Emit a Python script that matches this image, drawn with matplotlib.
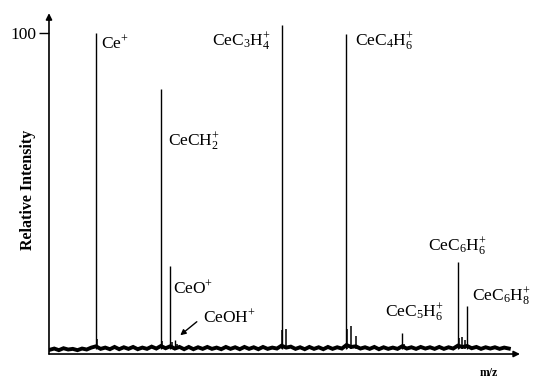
import matplotlib
matplotlib.use("Agg")
import matplotlib.pyplot as plt

plt.rcParams['font.family'] = ['Liberation Serif', 'DejaVu Serif']
plt.rcParams['mathtext.fontset'] = 'custom'
plt.rcParams['mathtext.rm'] = 'Liberation Serif'
plt.rcParams['mathtext.it'] = 'Liberation Serif:italic'
plt.rcParams['mathtext.bf'] = 'Liberation Serif:bold'

# main peaks (m/z, relative intensity)
peak_mz = [140, 154, 156, 157, 180, 194, 206, 218, 220]
peak_int = [100, 82.6, 27.4, 4.4, 102.5, 99.7, 6.5, 28.7, 15.0]
peak_names = ["Ce$^{+}$", "CeCH$_2^{+}$", "CeO$^{+}$", "CeOH$^{+}$",
              "CeC$_3$H$_4^{+}$", "CeC$_4$H$_6^{+}$", "CeC$_5$H$_6^{+}$",
              "CeC$_6$H$_6^{+}$", "CeC$_6$H$_8^{+}$"]
# label positions (m/z, intensity)
label_mz = [141.1, 155.5, 156.6, 163.1, 165.0, 195.8, 202.3, 211.6, 221.0]
label_int = [96.9, 66.0, 20.6, 11.5, 97.2, 97.2, 12.8, 33.3, 17.8]

# small satellite peaks and base bumps
minor_mz = [140.2, 154.2, 156.3, 180.2, 181, 194.2, 195, 196, 218.3, 219, 219.6, 206.3, 157.5]
minor_int = [4.6, 4.2, 3.8, 7.5, 7.8, 7.8, 8.7, 5.6, 5.0, 5.2, 4.5, 3.0, 3.2]

# baseline noise, read every 1 m/z
base_mz = list(range(130, 230))
base_int = [1.3, 1.7, 1.2, 1.8, 1.4, 1.6, 1.2, 1.7, 1.4, 2.0, 2.4, 1.6, 2.0, 1.5, 2.2,
            1.5, 2.1, 1.6, 2.2, 1.5, 2.0, 1.6, 2.3, 1.7, 2.5, 1.8, 2.4, 1.7, 2.2, 1.5,
            2.2, 1.5, 2.1, 1.6, 2.2, 1.6, 2.0, 1.5, 2.2, 1.6, 2.1, 1.5, 2.2, 1.6, 2.1,
            1.5, 2.2, 1.6, 2.0, 1.7, 2.6, 2.0, 2.3, 1.6, 2.1, 1.5, 2.2, 1.6, 2.1, 1.5,
            2.2, 1.6, 2.1, 1.7, 2.8, 2.2, 2.4, 1.7, 2.1, 1.6, 2.2, 1.5, 2.1, 1.6, 2.0,
            1.6, 2.4, 1.7, 2.1, 1.6, 2.2, 1.7, 2.1, 1.6, 2.2, 1.6, 2.1, 1.7, 2.6, 2.2,
            2.5, 1.8, 2.2, 1.6, 2.1, 1.7, 2.1, 1.6, 2.0, 1.7]

fig = plt.figure(figsize=(5.36, 3.8), dpi=100)
ax = fig.add_axes([0.0914, 0.0684, 0.8787, 0.897])

ax.plot(base_mz, base_int, color='k', lw=2.8, solid_joinstyle='miter')
ax.vlines(minor_mz, 1.5, minor_int, color='k', lw=1.1)
ax.vlines(peak_mz, 1.5, peak_int, color='k', lw=1.0)

for i in range(len(peak_names)):
    ax.text(label_mz[i], label_int[i], peak_names[i], fontsize=12.5, ha='left', va='center')

ax.annotate('', xy=(157.7, 5.3), xytext=(162.2, 10.6),
            arrowprops=dict(arrowstyle='-|>', color='k', lw=1, mutation_scale=8))

ax.set_xlim(129.87, 231.4)
ax.set_ylim(0, 106.2)
for s in ax.spines.values():
    s.set_visible(False)
ax.annotate('', xy=(0, 1), xytext=(0, 0), xycoords='axes fraction',
            arrowprops=dict(arrowstyle='-|>', color='k', lw=1.2, mutation_scale=9,
                            shrinkA=0, shrinkB=0))
ax.annotate('', xy=(1, 0), xytext=(0, 0), xycoords='axes fraction',
            arrowprops=dict(arrowstyle='-|>', color='k', lw=1.2, mutation_scale=9,
                            shrinkA=0, shrinkB=0))
ax.set_xticks([])
ax.set_yticks([100])
ax.set_yticklabels(["100"], fontsize=12.5)
ax.tick_params(axis='y', direction='out', length=7, width=1, pad=2)

fig.text(0.052, 0.5, "Relative Intensity", rotation=90, fontsize=11.5,
         fontweight='bold', ha='center', va='center')
fig.text(0.912, 0.018, "m/z", fontsize=8.5, fontweight='bold', ha='center', va='center')

plt.savefig("out.png", dpi=100)
